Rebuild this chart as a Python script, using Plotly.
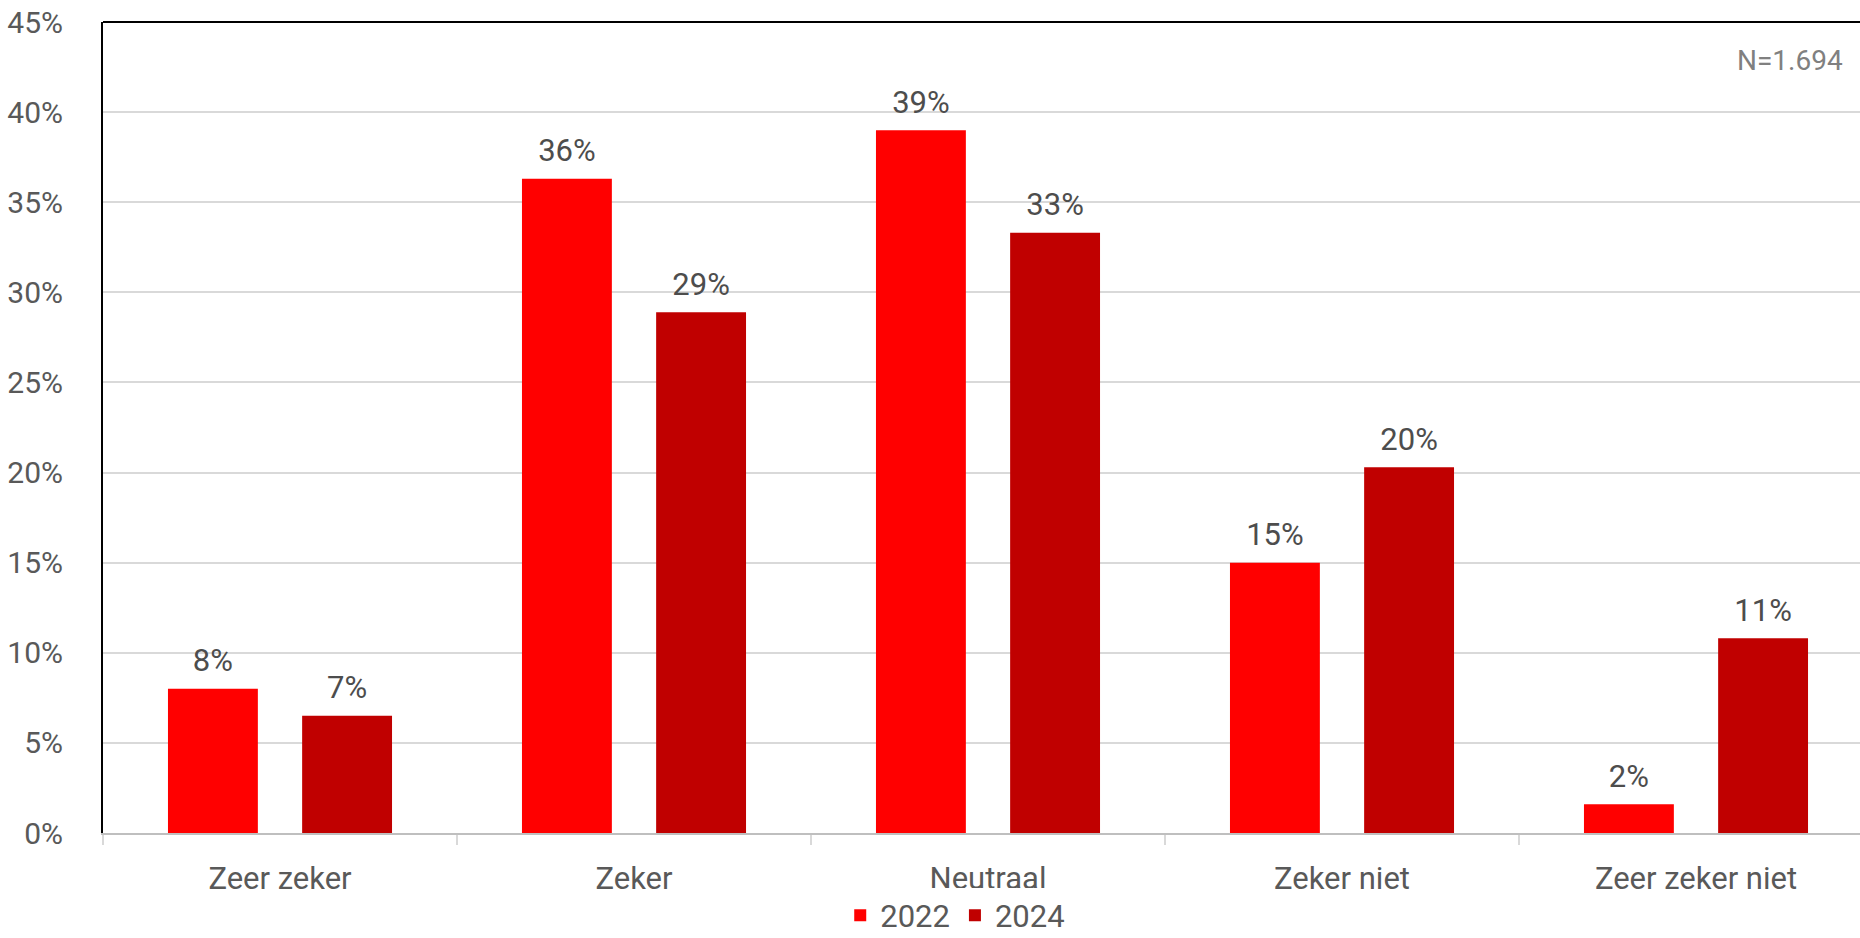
import plotly.graph_objects as go

categories = ["Zeer zeker", "Zeker", "Neutraal", "Zeker niet", "Zeer zeker niet"]
series_names = ["2022", "2024"]
values_2022 = [8.0, 36.3, 39.0, 15.0, 1.6]
values_2024 = [6.5, 28.9, 33.3, 20.3, 10.8]
labels_2022 = ["8%", "36%", "39%", "15%", "2%"]
labels_2024 = ["7%", "29%", "33%", "20%", "11%"]
colors = ["#FF0000", "#C00000"]
y_ticks = [0, 5, 10, 15, 20, 25, 30, 35, 40, 45]
y_ticklabels = [f"{t}%" for t in y_ticks]
note = "N=1.694"

FONT = "Roboto"
FS = 31
fig = go.Figure()
for name, vals, col in zip(series_names, [values_2022, values_2024], colors):
    fig.add_trace(go.Bar(name=name, x=categories, y=vals, marker=dict(color=col, line=dict(width=0)),
                         offsetgroup=name))
for name, vals, labs in zip(series_names, [values_2022, values_2024], [labels_2022, labels_2024]):
    fig.add_trace(go.Scatter(x=categories, y=vals, text=labs, mode="markers+text", textposition="top center",
                             marker=dict(size=14, opacity=0), offsetgroup=name, showlegend=False,
                             hoverinfo="skip",
                             textfont=dict(family=FONT, size=FS, color="#4d4d4d"), cliponaxis=False))

fig.add_shape(type="line", xref="paper", yref="paper", x0=0, x1=1, y0=1, y1=1,
              line=dict(color="black", width=2))
fig.add_annotation(text=note, xref="paper", yref="paper", x=0.984, y=0.952, xanchor="right", yanchor="middle",
                   showarrow=False, font=dict(family=FONT, size=28, color="#808080"))

fig.update_layout(
    width=1873, height=938, barmode="group", bargap=0.242, bargroupgap=0.33,
    scattermode="group", scattergap=0.242,
    plot_bgcolor="white", paper_bgcolor="white",
    margin=dict(l=103, r=0, t=22, b=105, autoexpand=False),
    font=dict(family=FONT, size=FS, color="#595959"),
    legend=dict(orientation="h", x=0.51, xanchor="center", xref="container", yref="container",
                y=0.024, yanchor="middle",
                font=dict(family=FONT, size=FS, color="#595959"), itemwidth=30, traceorder="normal"),
    xaxis=dict(showline=True, linecolor="#bfbfbf", linewidth=2, ticks="outside", tickson="boundaries",
               ticklen=10, tickcolor="#d9d9d9", tickwidth=1.5, showgrid=False, automargin=False,
               ticklabelstandoff=17,
               tickfont=dict(family=FONT, size=FS, color="#595959")),
    yaxis=dict(range=[0, 45], tickvals=y_ticks, ticktext=y_ticklabels, showline=True, linecolor="black",
               linewidth=2, gridcolor="#d9d9d9", gridwidth=1.5, zeroline=False, ticks="", automargin=False,
               ticklabelstandoff=32, tickfont=dict(family=FONT, size=30, color="#595959")),
)
fig.write_html("out.html", config={"displayModeBar": False},
               post_script="document.body.style.margin='0px';document.body.style.overflow='hidden';")
